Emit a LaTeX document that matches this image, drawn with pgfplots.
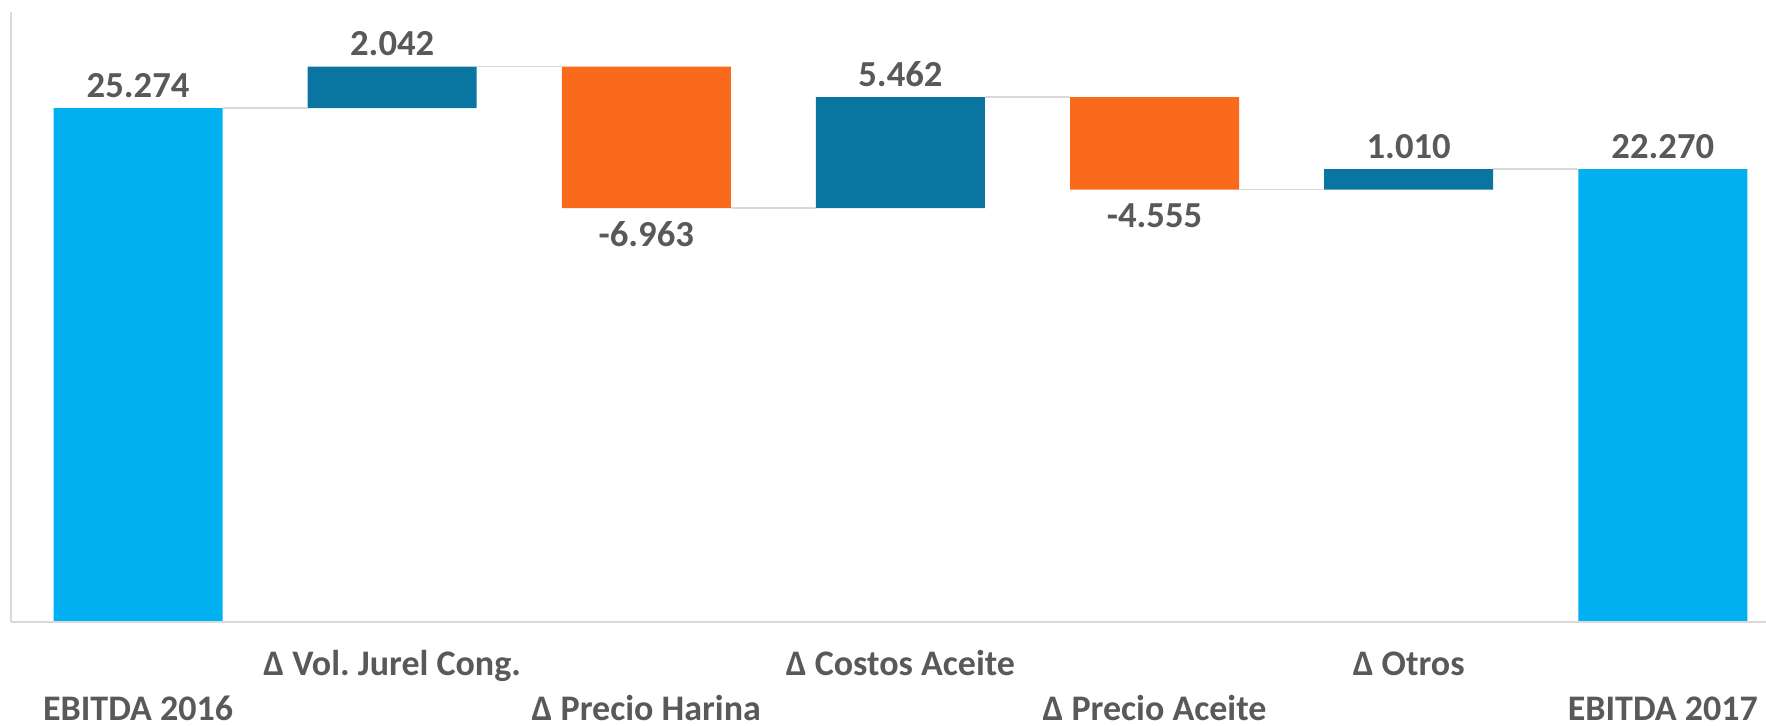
\documentclass[border=0pt]{standalone}
\usepackage{pgfplots}
\pgfplotsset{compat=1.18}
\usepackage{fontspec}
\setmainfont{Carlito}
\frenchspacing
\definecolor{totblue}{HTML}{00B0F0}
\definecolor{upteal}{HTML}{0A75A0}
\definecolor{downorange}{HTML}{FA6A1C}
\definecolor{txtgray}{HTML}{595959}
\definecolor{linegray}{HTML}{D9D9D9}
\pgfplotsset{wf/.style={scale only axis, width=526.7pt, height=183pt,
  xmin=-0.5, xmax=6.406, ymin=0, ymax=30, clip=false}}
\begin{document}
\begin{tikzpicture}
\begin{axis}[wf, ybar stacked, bar width=0.665, hide axis]
\addplot[draw=none, fill=none] coordinates {(0,0) (1,25.274) (2,20.353) (3,20.353) (4,21.260) (5,21.260) (6,0)};
\addplot[draw=none, fill=totblue] coordinates {(0,25.274) (1,0) (2,0) (3,0) (4,0) (5,0) (6,22.270)};
\addplot[draw=none, fill=upteal] coordinates {(0,0) (1,2.042) (2,0) (3,5.462) (4,0) (5,1.010) (6,0)};
\addplot[draw=none, fill=downorange] coordinates {(0,0) (1,0) (2,6.963) (3,0) (4,4.555) (5,0) (6,0)};
\end{axis}
\begin{axis}[wf,
  axis lines*=left, axis line style={-, draw=linegray, line width=0.7pt},
  ytick=\empty, major tick length=0pt,
  xtick={1,3,5},
  xticklabels={{Δ Vol. Jurel Cong.}, {Δ Costos Aceite}, {Δ Otros}},
  extra x ticks={0,2,4,6},
  extra x tick labels={{EBITDA 2016}, {Δ Precio Harina}, {Δ Precio Aceite}, {EBITDA 2017}},
  x tick label style={font=\fontsize{10.8}{13}\selectfont\bfseries, text=txtgray,
    anchor=north, inner sep=0pt, text height=7.2pt, text depth=0pt, yshift=-8.7pt},
  extra x tick style={x tick label style={yshift=-13.5pt}},
  every node near coord/.append style={font=\fontsize{11}{13}\selectfont\bfseries, text=txtgray,
    inner sep=0pt, text height=7pt, text depth=0pt},
]
\addplot[linegray, line width=0.5pt] coordinates {(0.3325,25.274) (0.6675,25.274)};
\addplot[linegray, line width=0.5pt] coordinates {(1.3325,27.316) (1.6675,27.316)};
\addplot[linegray, line width=0.5pt] coordinates {(2.3325,20.353) (2.6675,20.353)};
\addplot[linegray, line width=0.5pt] coordinates {(3.3325,25.815) (3.6675,25.815)};
\addplot[linegray, line width=0.5pt] coordinates {(4.3325,21.260) (4.6675,21.260)};
\addplot[linegray, line width=0.5pt] coordinates {(5.3325,22.270) (5.6675,22.270)};
\addplot[draw=none, mark=none, nodes near coords, point meta=explicit symbolic,
  nodes near coords style={anchor=south, yshift=3pt}] table[meta=label] {
x y label
0 25.274 25.274
1 27.316 2.042
3 25.815 5.462
5 22.270 1.010
6 22.270 22.270
};
\addplot[draw=none, mark=none, nodes near coords, point meta=explicit symbolic,
  nodes near coords style={anchor=north, yshift=-4.2pt}] table[meta=label] {
x y label
2 20.353 -6.963
4 21.260 -4.555
};
\end{axis}
\pgfresetboundingbox
\path ([shift={(-3.3pt,-31.2pt)}]current axis.south west) rectangle ([shift={(0pt,3.6pt)}]current axis.north east);
\end{tikzpicture}
\end{document}
